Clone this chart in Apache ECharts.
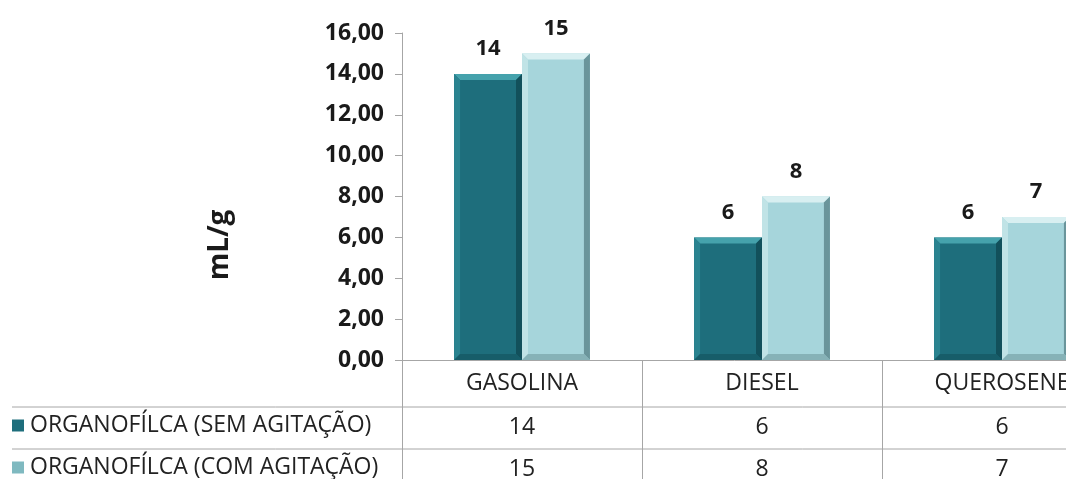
<!DOCTYPE html>
<html>
<head>
<meta charset="utf-8">
<title>mL/g</title>
<script src="https://cdn.jsdelivr.net/npm/echarts@6/dist/echarts.min.js"></script>
<style>
  html, body { margin: 0; padding: 0; background: #ffffff; }
  #chart { width: 1066px; height: 479px; }
</style>
</head>
<body>
<div id="chart"></div>
<script>
// Categories and measured values (mL/g)
const categories = ['GASOLINA', 'DIESEL', 'QUEROSENE'];
const seriesNames = ['ORGANOFÍLCA (SEM AGITAÇÃO)', 'ORGANOFÍLCA (COM AGITAÇÃO)'];
const semAgitacao = [14, 6, 6];
const comAgitacao = [15, 8, 7];
const yTicks = [0, 2, 4, 6, 8, 10, 12, 14, 16];

const FONT = '"Open Sans", "DejaVu Sans", sans-serif';
const GRID_LINE = '#a6a6a6';

// Shades for the bevelled bars: face, top, left, right, bottom
const darkShades = { face: '#1e6e7c', top: '#45a2ac', left: '#2a8390', right: '#12505b', bottom: '#175d69' };
const lightShades = { face: '#a6d5db', top: '#d8eff1', left: '#c0e3e6', right: '#6a959b', bottom: '#86b2b7' };

function bevelBar(shades, side) {
  return function (params, api) {
    const cat = api.value(0);
    const val = api.value(1);
    const band = api.size([1, 0])[0];
    const bw = band * 0.283;
    const base = api.coord([cat, 0]);
    const top = api.coord([cat, val]);
    const x0 = side < 0 ? base[0] - bw : base[0];
    const x1 = x0 + bw;
    const y0 = top[1];
    const y1 = base[1];
    const b = Math.min(6, bw / 5, (y1 - y0) / 3);
    return {
      type: 'group',
      children: [
        { type: 'rect', shape: { x: x0, y: y0, width: bw, height: y1 - y0 }, style: { fill: shades.face } },
        { type: 'polygon', shape: { points: [[x0, y0], [x1, y0], [x1 - b, y0 + b], [x0 + b, y0 + b]] }, style: { fill: shades.top } },
        { type: 'polygon', shape: { points: [[x0, y0], [x0 + b, y0 + b], [x0 + b, y1 - b], [x0, y1]] }, style: { fill: shades.left } },
        { type: 'polygon', shape: { points: [[x1, y0], [x1, y1], [x1 - b, y1 - b], [x1 - b, y0 + b]] }, style: { fill: shades.right } },
        { type: 'polygon', shape: { points: [[x0, y1], [x0 + b, y1 - b], [x1 - b, y1 - b], [x1, y1]] }, style: { fill: shades.bottom } },
        {
          type: 'text',
          x: (x0 + x1) / 2,
          y: y0 - 14,
          style: {
            text: String(val),
            fontSize: 22, fontWeight: 'bold', fontFamily: FONT,
            fill: '#1a1a1a', align: 'center', verticalAlign: 'bottom'
          }
        }
      ]
    };
  };
}

const legendText = { fontFamily: FONT, fontSize: 23, color: '#222', padding: [0, 0, 0, 1] };

const chart = echarts.init(document.getElementById('chart'), null, { renderer: 'canvas' });

chart.setOption({
  animation: false,
  backgroundColor: '#ffffff',
  // the third category runs past the right edge of the canvas
  grid: { left: 402, width: 720, top: 33, bottom: 119, containLabel: false, outerBoundsMode: 'none' },
  legend: [
    {
      left: 12, top: 414, padding: 0,
      itemWidth: 12, itemHeight: 12, icon: 'rect',
      data: [seriesNames[0]], textStyle: legendText
    },
    {
      left: 12, top: 456, padding: 0,
      itemWidth: 12, itemHeight: 12, icon: 'rect',
      data: [seriesNames[1]], textStyle: legendText
    }
  ],
  xAxis: {
    type: 'category',
    data: categories,
    axisLine: { show: true, lineStyle: { color: GRID_LINE, width: 1 } },
    axisTick: { show: true, length: 125, lineStyle: { color: GRID_LINE, width: 1 } },
    axisLabel: {
      interval: 0,
      margin: 0,
      formatter: function (value, idx) {
        return '{c|' + value + '}\n{v|' + semAgitacao[idx] + '}\n{v|' + comAgitacao[idx] + '}';
      },
      rich: {
        c: { fontFamily: FONT, fontSize: 23, color: '#222', lineHeight: 46 },
        v: { fontFamily: FONT, fontSize: 23, color: '#222', lineHeight: 42 }
      }
    },
    splitLine: { show: false }
  },
  yAxis: {
    type: 'value',
    min: yTicks[0],
    max: yTicks[yTicks.length - 1],
    interval: yTicks[1] - yTicks[0],
    axisLine: { show: true, lineStyle: { color: GRID_LINE, width: 1 } },
    axisTick: { show: true, inside: false, length: 7, lineStyle: { color: GRID_LINE } },
    splitLine: { show: false },
    axisLabel: {
      margin: 18,
      fontFamily: FONT,
      fontSize: 23,
      fontWeight: 'bold',
      color: '#1a1a1a',
      formatter: function (v) { return v.toFixed(2).replace('.', ','); }
    }
  },
  graphic: [
    {
      type: 'text',
      x: 220,
      y: 245,
      rotation: Math.PI / 2,
      style: {
        text: 'mL/g', fontFamily: FONT, fontSize: 28, fontWeight: 'bold',
        fill: '#1a1a1a', align: 'center', verticalAlign: 'middle'
      }
    },
    { type: 'line', shape: { x1: 12, y1: 407, x2: 1066, y2: 407 }, style: { stroke: GRID_LINE, lineWidth: 1 } },
    { type: 'line', shape: { x1: 12, y1: 449, x2: 1066, y2: 449 }, style: { stroke: GRID_LINE, lineWidth: 1 } }
  ],
  series: [
    {
      name: seriesNames[0],
      type: 'custom',
      itemStyle: { color: darkShades.face },
      encode: { x: 0, y: 1 },
      data: semAgitacao.map((v, i) => [i, v]),
      renderItem: bevelBar(darkShades, -1),
      clip: false
    },
    {
      name: seriesNames[1],
      type: 'custom',
      itemStyle: { color: '#7fb9c0' },
      encode: { x: 0, y: 1 },
      data: comAgitacao.map((v, i) => [i, v]),
      renderItem: bevelBar(lightShades, 1),
      clip: false
    }
  ]
});
</script>
</body>
</html>
